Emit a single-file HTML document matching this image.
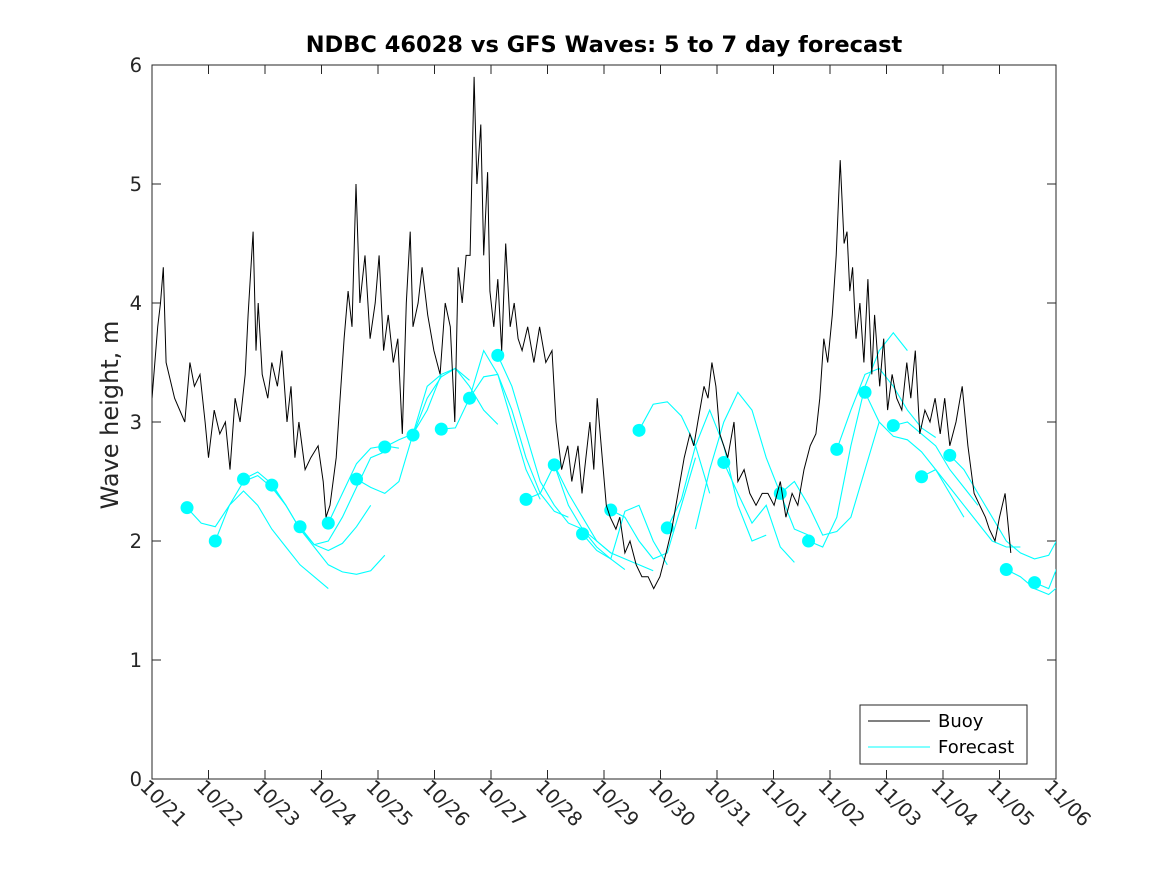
<!DOCTYPE html>
<html><head><meta charset="utf-8"><style>
body{margin:0;background:#fff}
svg{display:block;font-family:"DejaVu Sans","Liberation Sans",sans-serif}
</style></head><body>
<svg id="chart" width="1167" height="875" viewBox="0 0 1167 875">
<defs><clipPath id="pc"><rect x="152" y="65" width="904" height="714"/></clipPath></defs>
<rect x="0" y="0" width="1167" height="875" fill="#fff"/>
<text x="604" y="52" text-anchor="middle" font-size="22.5" font-weight="bold" fill="#000">NDBC 46028 vs GFS Waves: 5 to 7 day forecast</text>
<rect x="152" y="65" width="904" height="714" fill="#fff" stroke="#262626" stroke-width="1"/>
<g id="yaxis"></g>
<g id="xaxis"></g>
<text transform="translate(118,415) rotate(-90)" text-anchor="middle" font-size="24" fill="#262626">Wave height, m</text>
<g id="forecast" clip-path="url(#pc)"></g>
<g id="buoy" clip-path="url(#pc)"></g>
<g>
<rect x="860" y="705" width="167" height="59" fill="#fff" stroke="#262626" stroke-width="1"/>
<line x1="868" y1="721" x2="930" y2="721" stroke="#000" stroke-width="1"/>
<text x="938" y="727" font-size="18" fill="#000">Buoy</text>
<line x1="868" y1="747" x2="930" y2="747" stroke="#00ffff" stroke-width="1"/>
<text x="938" y="753" font-size="18" fill="#000">Forecast</text>
</g>
</svg>
<script>
const xTickLabels=["10/21","10/22","10/23","10/24","10/25","10/26","10/27","10/28","10/29","10/30","10/31","11/01","11/02","11/03","11/04","11/05","11/06"];
const yTicks=[0,1,2,3,4,5,6];
const buoyT=[0,0.1,0.15,0.2,0.25,0.4,0.58,0.67,0.75,0.85,0.94,1.0,1.1,1.2,1.3,1.38,1.47,1.56,1.65,1.7,1.79,1.84,1.88,1.95,2.05,2.12,2.22,2.3,2.39,2.46,2.53,2.6,2.71,2.81,2.94,3.03,3.08,3.15,3.26,3.33,3.4,3.47,3.54,3.61,3.68,3.77,3.86,3.95,4.02,4.1,4.18,4.27,4.35,4.43,4.5,4.57,4.62,4.71,4.78,4.88,4.99,5.1,5.19,5.28,5.36,5.42,5.49,5.56,5.63,5.7,5.75,5.82,5.87,5.94,5.98,6.05,6.12,6.19,6.26,6.34,6.41,6.48,6.55,6.65,6.76,6.86,6.97,7.08,7.15,7.25,7.36,7.43,7.54,7.61,7.68,7.75,7.82,7.88,7.95,8.04,8.11,8.21,8.28,8.37,8.46,8.57,8.67,8.78,8.88,8.99,9.1,9.2,9.31,9.42,9.52,9.59,9.66,9.77,9.84,9.91,9.98,10.05,10.19,10.3,10.37,10.48,10.58,10.69,10.8,10.9,11.01,11.12,11.22,11.33,11.43,11.54,11.65,11.75,11.82,11.89,11.96,12.04,12.11,12.18,12.25,12.3,12.35,12.4,12.46,12.53,12.6,12.67,12.74,12.79,12.88,12.95,13.02,13.1,13.18,13.27,13.36,13.43,13.51,13.59,13.68,13.77,13.86,13.95,14.03,14.12,14.23,14.34,14.44,14.55,14.65,14.75,14.82,14.92,15.0,15.1,15.2,15.3];
const buoyH=[3.2,3.8,4.0,4.3,3.5,3.2,3.0,3.5,3.3,3.4,3.0,2.7,3.1,2.9,3.0,2.6,3.2,3.0,3.4,3.9,4.6,3.6,4.0,3.4,3.2,3.5,3.3,3.6,3.0,3.3,2.7,3.0,2.6,2.7,2.8,2.5,2.2,2.3,2.7,3.2,3.7,4.1,3.8,5.0,4.0,4.4,3.7,4.0,4.4,3.6,3.9,3.5,3.7,2.9,4.0,4.6,3.8,4.0,4.3,3.9,3.6,3.4,4.0,3.8,3.0,4.3,4.0,4.4,4.4,5.9,5.0,5.5,4.4,5.1,4.1,3.8,4.2,3.6,4.5,3.8,4.0,3.7,3.6,3.8,3.5,3.8,3.5,3.6,3.0,2.6,2.8,2.5,2.8,2.4,2.7,3.0,2.6,3.2,2.8,2.3,2.2,2.1,2.2,1.9,2.0,1.8,1.7,1.7,1.6,1.7,1.9,2.1,2.4,2.7,2.9,2.8,3.0,3.3,3.2,3.5,3.3,2.9,2.7,3.0,2.5,2.6,2.4,2.3,2.4,2.4,2.3,2.5,2.2,2.4,2.3,2.6,2.8,2.9,3.2,3.7,3.5,3.9,4.4,5.2,4.5,4.6,4.1,4.3,3.7,4.0,3.5,4.2,3.4,3.9,3.3,3.7,3.1,3.4,3.2,3.1,3.5,3.2,3.6,2.9,3.1,3.0,3.2,2.9,3.2,2.8,3.0,3.3,2.8,2.4,2.3,2.2,2.1,2.0,2.2,2.4,1.9];
const fcStart=[0.62,1.12,1.62,2.12,2.62,3.12,3.62,4.12,4.62,5.12,5.62,6.12,6.62,7.12,7.62,8.12,8.62,9.12,9.62,10.12,11.12,11.62,12.12,12.62,13.12,13.62,14.12,15.12,15.62];
const fcHasDot=[1,1,1,1,1,1,1,1,1,1,1,1,1,1,1,1,1,1,0,1,1,1,1,1,1,1,1,1,1];
const fcVals=[
[2.28,2.15,2.12,2.3,2.5,2.55,2.45,2.3],
[2.0,2.3,2.42,2.3,2.1,1.95,1.8,1.7,1.6],
[2.52,2.58,2.48,2.3,2.1,1.95,1.8,1.74,1.72,1.75,1.88],
[2.47,2.3,2.1,1.97,1.92,1.98,2.12,2.3],
[2.12,1.97,2.0,2.2,2.45,2.7,2.75],
[2.15,2.4,2.65,2.78,2.8,2.78],
[2.52,2.45,2.4,2.5,2.9,3.3,3.4],
[2.79,2.85,2.9,3.1,3.4,3.45,3.35],
[2.89,3.2,3.38,3.45,3.3,3.1,2.98],
[2.94,2.95,3.2,3.6,3.4,3.0,2.6,2.35],
[3.2,3.38,3.4,3.1,2.7,2.4,2.25,2.2],
[3.56,3.3,2.9,2.5,2.3,2.15,2.1,2.0,1.9],
[2.35,2.4,2.64,2.3,2.1,1.95,1.85,1.76],
[2.64,2.4,2.2,2.0,1.9,1.85,1.8,1.75],
[2.06,1.92,1.85,2.25,2.3,2.0,1.8],
[2.26,2.2,2.0,1.85,1.9,2.3,2.7],
[2.93,3.15,3.17,3.05,2.8,2.4],
[2.11,2.35,2.8,3.1,2.8,2.3,2.0,2.05],
[2.1,2.6,3.0,3.25,3.1,2.7,2.4,2.1,2.05],
[2.66,2.4,2.15,2.3,1.95,1.82],
[2.4,2.5,2.3,2.05,2.08,2.2,2.6,3.0],
[2.0,1.95,2.2,2.8,3.3,3.6,3.75,3.6],
[2.77,3.1,3.4,3.45,3.3,3.1,2.95,2.87],
[3.25,3.0,2.88,2.85,2.75,2.6,2.4,2.2],
[2.97,3.0,2.9,2.8,2.6,2.45,2.3],
[2.54,2.6,2.45,2.3,2.15,2.0,1.95,1.95],
[2.72,2.6,2.4,2.2,2.0,1.9,1.85,1.88,2.1],
[1.76,1.7,1.6,1.55,1.65,2.1],
[1.65,1.6,1.9]];
const fcStep=0.25;

const X0=152,X1=1056,Y0=779,Y1=65,DMAX=16,VMAX=6;
const xs=d=>X0+(X1-X0)*d/DMAX;
const ys=v=>Y0-(Y0-Y1)*v/VMAX;
const NS="http://www.w3.org/2000/svg";
function mk(tag,attrs,parent){const e=document.createElementNS(NS,tag);for(const k in attrs)e.setAttribute(k,attrs[k]);parent.appendChild(e);return e;}

const ya=document.getElementById('yaxis');
yTicks.forEach(v=>{
  const t=mk('line',{x1:X0,x2:X0+9,y1:ys(v),y2:ys(v),stroke:'#262626'},ya);
  
  
  const t2=mk('line',{x1:X1-9,x2:X1,y1:ys(v),y2:ys(v),stroke:'#262626'},ya);
  
  
  const l=mk('text',{x:X0-10,y:ys(v)+7,'text-anchor':'end','font-size':'19.5',fill:'#262626'},ya);
  l.textContent=v;
  
  
});
const xa=document.getElementById('xaxis');
xTickLabels.forEach((s,i)=>{
  const x=xs(i);
  const t=mk('line',{x1:x,x2:x,y1:Y0,y2:Y0-9,stroke:'#262626'},xa);
  
  
  const t2=mk('line',{x1:x,x2:x,y1:Y1,y2:Y1+9,stroke:'#262626'},xa);
  
  
  const l=mk('text',{transform:`translate(${x-13},${Y0+9}) rotate(45)`,'font-size':'19.5',fill:'#262626'},xa);
  l.textContent=s;
  
  
});

const fg=document.getElementById('forecast');
fcVals.forEach((vals,r)=>{
  const pts=vals.map((v,j)=>xs(fcStart[r]+j*fcStep).toFixed(1)+','+ys(v).toFixed(1)).join(' ');
  const pl=mk('polyline',{points:pts,fill:'none',stroke:'#00ffff','stroke-width':'1.1'},fg);
  
  
  if(fcHasDot[r]){
    const c=mk('circle',{cx:xs(fcStart[r]),cy:ys(vals[0]),r:6.5,fill:'#00ffff'},fg);
    
    
  }
});
const bg=document.getElementById('buoy');
const bpts=buoyT.map((t,i)=>xs(t).toFixed(1)+','+ys(buoyH[i]).toFixed(1)).join(' ');
const bl=mk('polyline',{points:bpts,fill:'none',stroke:'#000','stroke-width':'1'},bg);


</script>
</body></html>
